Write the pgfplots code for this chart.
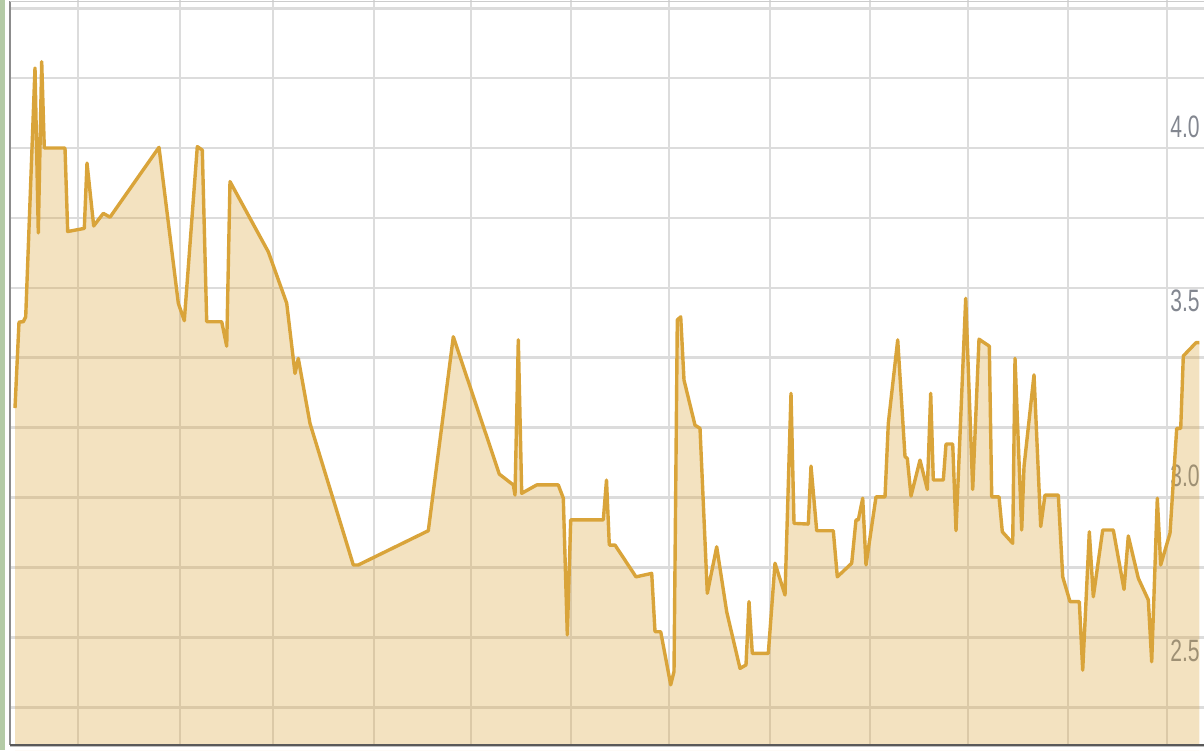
\documentclass[border=0pt]{standalone}
\usepackage{fontspec}
\setmainfont{Liberation Sans}
\newfontfamily\condfont[FakeStretch=0.68]{Liberation Sans}
\usepackage{pgfplots}
\pgfplotsset{compat=1.18}
\definecolor{goldline}{HTML}{D9A43A}
\definecolor{gridc}{HTML}{DCDCDC}
\definecolor{lblc}{HTML}{838790}
\definecolor{greenstrip}{HTML}{B4CBA6}
\begin{document}
\begin{tikzpicture}[x=1pt,y=1pt]
\useasboundingbox (0,0) rectangle (602,375);
\begin{axis}[at={(0,0)}, anchor=south west, scale only axis,
  width=602pt, height=375pt,
  xmin=0, xmax=1204, ymin=2.2776, ymax=4.4235,
  axis line style={draw=none},
  major tick length=0pt, minor tick length=0pt,
  xtick={78,180,273,374,471,571,669,770,870,968,1068,1167},
  xticklabels={},
  xmajorgrids,
  ytick={2.5,3.0,3.5,4.0},
  minor ytick={2.4,2.6,2.8,3.0,3.2,3.4,3.6,3.8,4.0,4.2,4.4},
  yminorgrids, ymajorgrids=false,
  grid style={gridc, line width=1.3pt},
  minor grid style={gridc, line width=1.3pt},
  yticklabel pos=right,
  yticklabel style={anchor=east, inner sep=0pt, xshift=-2pt, yshift=10.75pt,
    font=\condfont\fontsize{15.5}{16}\selectfont, text=lblc},
  /pgf/number format/assume math mode=true,
  yticklabel={\pgfmathprintnumber[fixed,fixed zerofill,precision=1]{\tick}},
]
\addplot[draw=none, fill=goldline, fill opacity=0.32] coordinates {
(15,3.256) (19,3.502) (23.3,3.503) (25.7,3.517) (35,4.229) (38.3,3.757) (41.7,4.247)
(44.3,4.000) (65,4.000) (67.7,3.761) (84.3,3.770) (87,3.957) (93.7,3.777) (103.3,3.813)
(110,3.802) (159,4.002) (178.3,3.556) (184.3,3.506) (197.3,4.004) (202.3,3.994)
(206.7,3.503) (221.7,3.503) (226.7,3.433) (230,3.904) (268.3,3.703) (286.7,3.556)
(295,3.355) (298.3,3.398) (310,3.212) (353.3,2.807) (358.3,2.807) (428.3,2.905)
(453.3,3.460) (499.3,3.067) (513.3,3.036) (515,3.007) (518.3,3.451) (521.7,3.012)
(536.7,3.036) (558.3,3.036) (563.3,2.998) (567.3,2.607) (570.7,2.936) (603.3,2.936)
(606.5,3.050) (609.3,2.864) (615,2.864) (636,2.773) (651.7,2.783) (655,2.616)
(660.7,2.616) (670.7,2.464) (674,2.502) (677.3,3.508) (680.7,3.517) (684,3.336)
(695,3.207) (700,3.198) (707.3,2.726) (716.7,2.859) (726.7,2.673) (740,2.511)
(746,2.521) (749,2.702) (752.3,2.554) (768.3,2.554) (775,2.812) (785,2.721)
(791,3.298) (794,2.926) (808.3,2.924) (811,3.090) (816.7,2.905) (833.3,2.905)
(837.3,2.773) (851.7,2.812) (856,2.936) (858.3,2.936) (862.7,2.998) (866,2.807)
(876,3.002) (885,3.002) (888.3,3.212) (897.7,3.451) (905,3.117) (907.3,3.112)
(911,3.004) (920,3.107) (927.3,3.023) (930.7,3.298) (933.3,3.050) (943.3,3.050)
(946,3.153) (952.7,3.153) (956,2.905) (965.7,3.570) (972.7,3.023) (979,3.453)
(989.3,3.433) (991.7,3.002) (999,3.002) (1002.3,2.902) (1012.7,2.869) (1015,3.398)
(1021.7,2.907) (1024,3.088) (1034,3.351) (1040.7,2.917) (1045,3.007) (1058.3,3.007)
(1062.7,2.773) (1070,2.702) (1079.3,2.702) (1082.7,2.506) (1089.3,2.902) (1093.3,2.716)
(1102.7,2.907) (1113.3,2.907) (1124,2.737) (1128.3,2.890) (1138.3,2.769) (1148.3,2.707)
(1151.7,2.530) (1157.3,2.998) (1160.7,2.807) (1170,2.898) (1176.7,3.198) (1180.7,3.198)
(1183.3,3.405) (1196,3.443) (1199.3,3.443)
} \closedcycle;
\addplot[goldline, line width=1.7pt, line join=round] coordinates {
(15,3.256) (19,3.502) (23.3,3.503) (25.7,3.517) (35,4.229) (38.3,3.757) (41.7,4.247)
(44.3,4.000) (65,4.000) (67.7,3.761) (84.3,3.770) (87,3.957) (93.7,3.777) (103.3,3.813)
(110,3.802) (159,4.002) (178.3,3.556) (184.3,3.506) (197.3,4.004) (202.3,3.994)
(206.7,3.503) (221.7,3.503) (226.7,3.433) (230,3.904) (268.3,3.703) (286.7,3.556)
(295,3.355) (298.3,3.398) (310,3.212) (353.3,2.807) (358.3,2.807) (428.3,2.905)
(453.3,3.460) (499.3,3.067) (513.3,3.036) (515,3.007) (518.3,3.451) (521.7,3.012)
(536.7,3.036) (558.3,3.036) (563.3,2.998) (567.3,2.607) (570.7,2.936) (603.3,2.936)
(606.5,3.050) (609.3,2.864) (615,2.864) (636,2.773) (651.7,2.783) (655,2.616)
(660.7,2.616) (670.7,2.464) (674,2.502) (677.3,3.508) (680.7,3.517) (684,3.336)
(695,3.207) (700,3.198) (707.3,2.726) (716.7,2.859) (726.7,2.673) (740,2.511)
(746,2.521) (749,2.702) (752.3,2.554) (768.3,2.554) (775,2.812) (785,2.721)
(791,3.298) (794,2.926) (808.3,2.924) (811,3.090) (816.7,2.905) (833.3,2.905)
(837.3,2.773) (851.7,2.812) (856,2.936) (858.3,2.936) (862.7,2.998) (866,2.807)
(876,3.002) (885,3.002) (888.3,3.212) (897.7,3.451) (905,3.117) (907.3,3.112)
(911,3.004) (920,3.107) (927.3,3.023) (930.7,3.298) (933.3,3.050) (943.3,3.050)
(946,3.153) (952.7,3.153) (956,2.905) (965.7,3.570) (972.7,3.023) (979,3.453)
(989.3,3.433) (991.7,3.002) (999,3.002) (1002.3,2.902) (1012.7,2.869) (1015,3.398)
(1021.7,2.907) (1024,3.088) (1034,3.351) (1040.7,2.917) (1045,3.007) (1058.3,3.007)
(1062.7,2.773) (1070,2.702) (1079.3,2.702) (1082.7,2.506) (1089.3,2.902) (1093.3,2.716)
(1102.7,2.907) (1113.3,2.907) (1124,2.737) (1128.3,2.890) (1138.3,2.769) (1148.3,2.707)
(1151.7,2.530) (1157.3,2.998) (1160.7,2.807) (1170,2.898) (1176.7,3.198) (1180.7,3.198)
(1183.3,3.405) (1196,3.443) (1199.3,3.443)
};
% frame decorations
\fill[white] (rel axis cs:0,0) rectangle (rel axis cs:1,0.00667);
\fill[white] (rel axis cs:0,0) rectangle (rel axis cs:0.0075,1);
\fill[greenstrip] (rel axis cs:0,0) rectangle (rel axis cs:0.0042,1);
\draw[black!45, line width=0.8pt] (rel axis cs:0.0083,0.0067) -- (rel axis cs:0.0083,0.998);
\draw[black!20, line width=0.6pt] (rel axis cs:0.0083,0.998) -- (rel axis cs:1,0.998);
\draw[black!25, line width=0.6pt] (rel axis cs:0.0083,0.0047) -- (rel axis cs:1,0.0047);
\draw[black!65, line width=0.9pt] (rel axis cs:0.0083,0.0067) -- (rel axis cs:1,0.0067);
\end{axis}
\end{tikzpicture}
\end{document}
